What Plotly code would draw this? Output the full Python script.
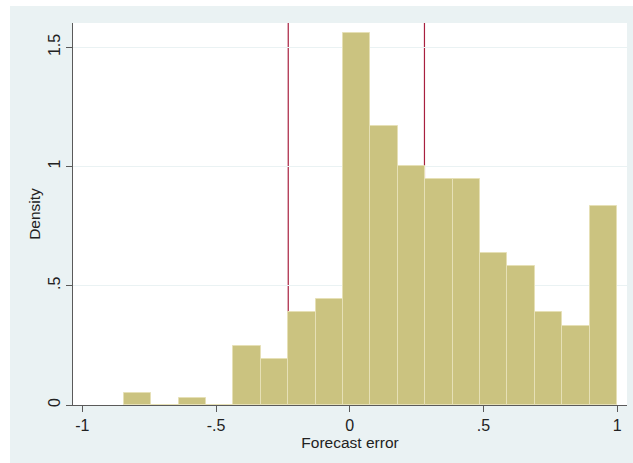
import plotly.graph_objects as go

# Histogram data
bin_start = -0.845
bin_width = 0.1025
densities = [0.052, 0.0, 0.028, 0.0, 0.249, 0.192, 0.389, 0.444, 1.558,
             1.168, 1.001, 0.946, 0.946, 0.639, 0.581, 0.389, 0.331, 0.836]
vlines = [-0.23, 0.2795]
x_ticks = [-1, -0.5, 0, 0.5, 1]
x_tick_labels = ["-1", "-.5", "0", ".5", "1"]
y_ticks = [0, 0.5, 1, 1.5]
y_tick_labels = ["0", ".5", "1", "1.5"]

centers = [bin_start + bin_width * (i + 0.5) for i in range(len(densities))]

BG = "#EAF2F3"
AXIS = "#5A5A5A"
FONT = "Liberation Sans, Arial, sans-serif"

fig = go.Figure()
fig.add_trace(go.Bar(
    x=centers, y=densities, width=bin_width,
    marker=dict(color="#CBC380", line=dict(color="#E6E0B6", width=1)),
    hoverinfo="x+y", showlegend=False,
))

shapes = []
for v in vlines:
    shapes.append(dict(type="line", xref="x", yref="paper", x0=v, x1=v, y0=0, y1=1,
                       line=dict(color="#A8203F", width=1.2), layer="below"))
# white strips outside the light-blue graph region (top and left)
shapes.append(dict(type="rect", xref="paper", yref="paper", x0=-0.2, x1=1.1,
                   y0=1.0445, y1=1.1, fillcolor="white", line=dict(width=0), layer="below"))
shapes.append(dict(type="rect", xref="paper", yref="paper", x0=-0.2, x1=-0.1137,
                   y0=-0.2, y1=1.1, fillcolor="white", line=dict(width=0), layer="below"))

fig.update_layout(
    width=633, height=463,
    margin=dict(l=73, r=6, t=23, b=58),
    paper_bgcolor=BG, plot_bgcolor="white",
    bargap=0,
    shapes=shapes,
    font=dict(family=FONT, color="#222222", size=15),
    xaxis=dict(
        range=[-1.035, 1.037], tickvals=x_ticks, ticktext=x_tick_labels,
        showgrid=False, zeroline=False, showline=True, linecolor=AXIS, linewidth=1,
        ticks="outside", ticklen=6, tickcolor=AXIS, tickfont=dict(size=16),
        title=dict(text="Forecast error", font=dict(size=15.5), standoff=2),
    ),
    yaxis=dict(
        range=[0, 1.602], tickvals=y_ticks, ticktext=y_tick_labels, tickangle=-90,
        showgrid=True, gridcolor="#EAF2F3", gridwidth=1, zeroline=False,
        showline=True, linecolor=AXIS, linewidth=1,
        ticks="outside", ticklen=6, tickcolor=AXIS, tickfont=dict(size=16),
        title=dict(text="Density", font=dict(size=15.5), standoff=1),
    ),
)

fig.write_html("out.html")
